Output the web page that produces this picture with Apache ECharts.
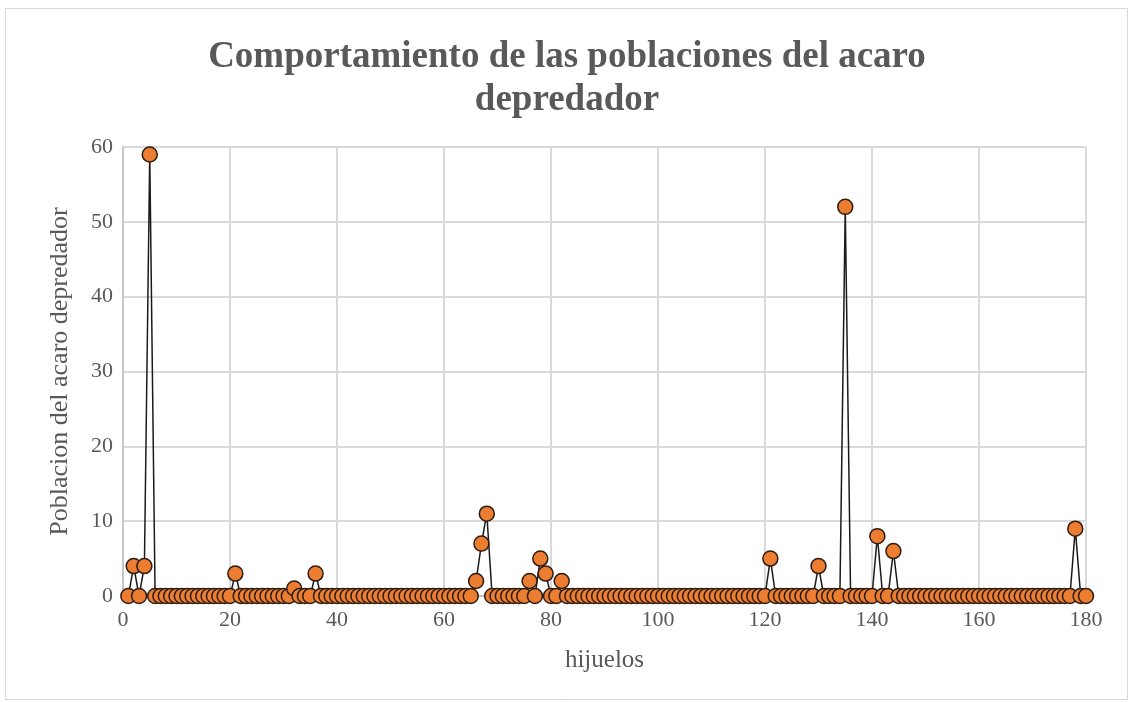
<!DOCTYPE html>
<html>
<head>
<meta charset="utf-8">
<script src="https://cdn.jsdelivr.net/npm/echarts@6/dist/echarts.min.js"></script>
<style>
html,body{margin:0;padding:0;background:#fff;}
#chart{width:1130px;height:702px;}
</style>
</head>
<body>
<div id="chart"></div>
<script>
const titleText = 'Comportamiento de las poblaciones del acaro\ndepredador';
const xAxisName = 'hijuelos';
const yAxisName = 'Poblacion del acaro depredador';
const xTicks = [0, 20, 40, 60, 80, 100, 120, 140, 160, 180];
const yTicks = [0, 10, 20, 30, 40, 50, 60];
// population values for hijuelos 1..180
const poblacion = [
  0, 4, 0, 4, 59, 0, 0, 0, 0, 0,
  0, 0, 0, 0, 0, 0, 0, 0, 0, 0,
  3, 0, 0, 0, 0, 0, 0, 0, 0, 0,
  0, 1, 0, 0, 0, 3, 0, 0, 0, 0,
  0, 0, 0, 0, 0, 0, 0, 0, 0, 0,
  0, 0, 0, 0, 0, 0, 0, 0, 0, 0,
  0, 0, 0, 0, 0, 2, 7, 11, 0, 0,
  0, 0, 0, 0, 0, 2, 0, 5, 3, 0,
  0, 2, 0, 0, 0, 0, 0, 0, 0, 0,
  0, 0, 0, 0, 0, 0, 0, 0, 0, 0,
  0, 0, 0, 0, 0, 0, 0, 0, 0, 0,
  0, 0, 0, 0, 0, 0, 0, 0, 0, 0,
  5, 0, 0, 0, 0, 0, 0, 0, 0, 4,
  0, 0, 0, 0, 52, 0, 0, 0, 0, 0,
  8, 0, 0, 6, 0, 0, 0, 0, 0, 0,
  0, 0, 0, 0, 0, 0, 0, 0, 0, 0,
  0, 0, 0, 0, 0, 0, 0, 0, 0, 0,
  0, 0, 0, 0, 0, 0, 0, 9, 0, 0
];
const hijuelos = poblacion.map((v, i) => i + 1);

const chart = echarts.init(document.getElementById('chart'), null, {renderer: 'canvas'});
const serif = '"Liberation Serif", "Times New Roman", serif';
const option = {
  backgroundColor: '#ffffff',
  animation: false,
  graphic: [{
    type: 'rect',
    shape: {x: 5.5, y: 8.5, width: 1122, height: 691},
    style: {fill: 'none', stroke: '#d9d9d9', lineWidth: 1},
    silent: true
  }, {
    type: 'text',
    x: 567,
    y: 36,
    style: {
      text: titleText,
      textAlign: 'center',
      textVerticalAlign: 'top',
      font: 'bold 37px ' + serif,
      lineHeight: 43,
      fill: '#595959'
    },
    silent: true
  }],
  grid: {left: 123, right: 44, top: 147, bottom: 106, containLabel: false},
  xAxis: {
    type: 'value',
    min: xTicks[0],
    max: xTicks[xTicks.length - 1],
    interval: 20,
    name: xAxisName,
    nameLocation: 'middle',
    nameGap: 52,
    nameTextStyle: {fontFamily: serif, fontSize: 25, color: '#595959'},
    axisLine: {show: true, lineStyle: {color: '#bfbfbf', width: 1.5}},
    axisTick: {show: false},
    splitLine: {show: true, lineStyle: {color: '#d9d9d9', width: 2}},
    axisLabel: {fontFamily: serif, fontSize: 22, color: '#595959', margin: 13}
  },
  yAxis: {
    type: 'value',
    min: yTicks[0],
    max: yTicks[yTicks.length - 1],
    interval: 10,
    name: yAxisName,
    nameLocation: 'middle',
    nameGap: 50,
    nameRotate: 90,
    nameTextStyle: {fontFamily: serif, fontSize: 26, color: '#595959'},
    axisLine: {show: true, lineStyle: {color: '#bfbfbf', width: 1.5}},
    axisTick: {show: false},
    splitLine: {show: true, lineStyle: {color: '#d9d9d9', width: 2}},
    axisLabel: {fontFamily: serif, fontSize: 22, color: '#595959', margin: 10}
  },
  series: [{
    type: 'line',
    data: hijuelos.map((x, i) => [x, poblacion[i]]),
    symbol: 'circle',
    symbolSize: 15,
    showAllSymbol: true,
    lineStyle: {color: '#1a1a1a', width: 1.5},
    itemStyle: {color: '#ED7D31', borderColor: '#2b1d12', borderWidth: 1.5},
    z: 3
  }]
};
chart.setOption(option);
</script>
</body>
</html>
